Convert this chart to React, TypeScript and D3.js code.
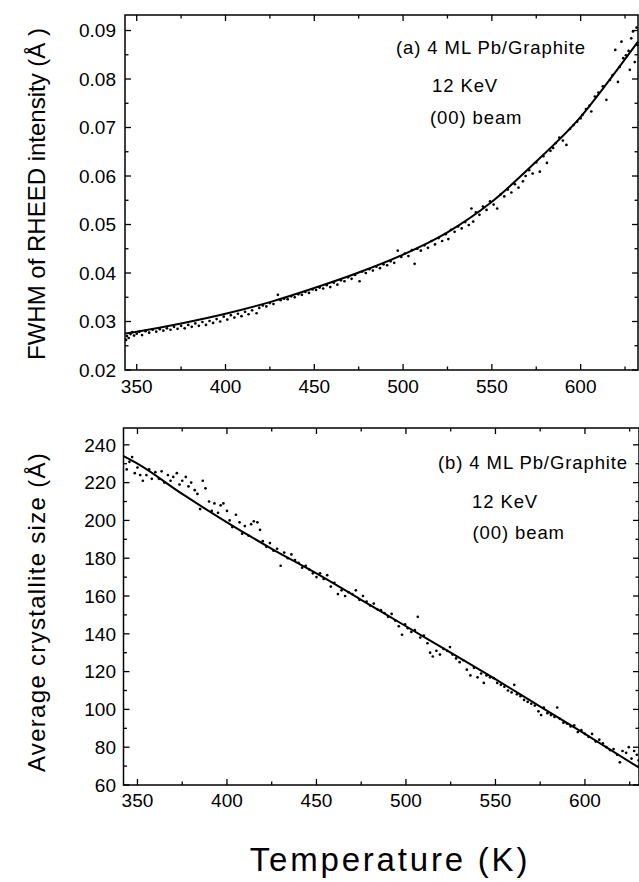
import React from "react";
import * as d3 from "d3";

// ---------- Data ----------
// (a) FWHM of RHEED intensity vs Temperature
const fwhmDots: [number, number][] = [
  [344.0, 0.0262], [344.5, 0.0270], [345.5, 0.0266], [346.5, 0.0274], [347.5, 0.0278], [348.5, 0.0271],
  [350.0, 0.0275], [351.5, 0.0279], [353.0, 0.0272], [355.0, 0.0280], [357.0, 0.0277], [359.0, 0.0283],
  [361.0, 0.0279], [363.0, 0.0284], [365.0, 0.0281], [367.0, 0.0286], [369.0, 0.0283], [371.0, 0.0289],
  [373.0, 0.0285], [375.0, 0.0291], [377.0, 0.0286], [379.0, 0.0293], [381.0, 0.0289], [383.0, 0.0296],
  [385.0, 0.0291], [387.0, 0.0299], [389.0, 0.0293], [391.0, 0.0301], [393.0, 0.0297], [395.0, 0.0305],
  [397.0, 0.0300], [399.0, 0.0310], [401.0, 0.0304], [403.0, 0.0313], [405.0, 0.0308], [407.0, 0.0316],
  [409.0, 0.0311], [411.0, 0.0320], [413.0, 0.0315], [415.0, 0.0323], [417.5, 0.0317], [419.0, 0.0328],
  [421.0, 0.0333], [423.0, 0.0331], [425.0, 0.0338], [427.0, 0.0336], [429.5, 0.0355], [431.0, 0.0344],
  [433.0, 0.0347], [435.0, 0.0346], [437.0, 0.0352], [439.0, 0.0350], [441.0, 0.0356], [443.0, 0.0355],
  [445.0, 0.0361], [447.0, 0.0359], [449.0, 0.0366], [451.0, 0.0365], [453.0, 0.0370], [455.0, 0.0368],
  [457.0, 0.0375], [459.0, 0.0371], [461.0, 0.0380], [463.0, 0.0376], [465.0, 0.0385], [467.0, 0.0383],
  [469.0, 0.0391], [471.0, 0.0388], [473.0, 0.0396], [475.5, 0.0383], [477.0, 0.0403], [479.0, 0.0400],
  [481.0, 0.0408], [483.0, 0.0405], [485.0, 0.0413], [487.0, 0.0410], [489.0, 0.0418], [491.0, 0.0416],
  [493.0, 0.0424], [495.0, 0.0421], [497.0, 0.0446], [499.0, 0.0433], [501.0, 0.0440], [503.0, 0.0435],
  [505.0, 0.0447], [506.5, 0.0419], [508.0, 0.0450], [510.0, 0.0446], [512.0, 0.0457], [514.0, 0.0452],
  [516.0, 0.0466], [518.0, 0.0459], [520.0, 0.0472], [522.0, 0.0466], [524.0, 0.0480], [525.5, 0.0470],
  [527.0, 0.0489], [529.0, 0.0485], [531.0, 0.0496], [533.0, 0.0492], [535.0, 0.0505], [537.0, 0.0499],
  [538.5, 0.0533], [539.5, 0.0506], [541.0, 0.0525], [543.0, 0.0520], [545.0, 0.0537], [547.0, 0.0530],
  [549.0, 0.0548], [551.0, 0.0541], [553.0, 0.0533], [555.0, 0.0562], [557.0, 0.0558], [559.0, 0.0572],
  [561.0, 0.0566], [563.0, 0.0583], [565.0, 0.0576], [567.5, 0.0589], [569.0, 0.0600], [571.0, 0.0612],
  [573.0, 0.0605], [575.0, 0.0628], [577.0, 0.0609], [579.0, 0.0641], [581.0, 0.0627], [583.0, 0.0652],
  [584.5, 0.0658], [586.0, 0.0668], [588.0, 0.0679], [590.0, 0.0673], [592.0, 0.0664], [594.0, 0.0697],
  [596.0, 0.0705], [598.0, 0.0712], [600.0, 0.0719], [601.0, 0.0726], [603.0, 0.0738], [605.0, 0.0745],
  [606.0, 0.0733], [608.0, 0.0764], [610.0, 0.0772], [612.5, 0.0785], [614.5, 0.0757], [616.5, 0.0798],
  [618.0, 0.0808], [619.5, 0.0860], [621.0, 0.0794], [622.0, 0.0825], [623.0, 0.0877], [624.0, 0.0843],
  [625.5, 0.0849], [627.0, 0.0858], [627.7, 0.0819], [628.5, 0.0884], [629.5, 0.0898], [630.5, 0.0835],
  [631.5, 0.0906], [632.0, 0.0870],
];
const fwhmFitT = [343.5, 350, 375, 400, 425, 450, 475, 500, 525, 550, 575, 600, 615, 632.3];
const fwhmFitV = [0.0275, 0.0279, 0.0296, 0.0316, 0.034, 0.0369, 0.0401, 0.0438, 0.0484, 0.0547, 0.063, 0.0722, 0.0792, 0.0877];

// (b) Average crystallite size vs Temperature
const sizeDots: [number, number][] = [
  [344, 227], [345.5, 231], [347, 233.5], [348.5, 225], [350, 228], [351.5, 224], [353, 221], [355, 224],
  [356.5, 227], [358, 222], [360, 225.5], [362, 222], [363.5, 226], [365, 220], [367, 224], [368.5, 221],
  [370, 223], [372, 225], [373.5, 219], [375, 221], [377, 223], [378.5, 218], [380, 220], [382, 216],
  [383.5, 214], [385, 206], [386.5, 221], [388, 217], [390, 210], [391.5, 205], [393, 209], [395, 204],
  [396.5, 208], [398, 209], [400, 205], [401.5, 200], [403, 196.5], [405, 203], [407, 199], [408.5, 193],
  [410, 197], [412, 192], [413.5, 198], [415, 199.5], [417, 199], [418.5, 195], [420, 189], [422, 186],
  [424, 188], [426, 184], [428, 185], [430, 176], [432, 183], [434, 180], [436, 182], [438, 179],
  [440, 177.5], [442, 175], [444, 176], [446, 174], [448, 172], [450, 170], [452, 172], [454, 169],
  [456, 171], [458, 165], [460, 167], [462, 161], [464, 163], [466, 160], [468, 162], [470, 161],
  [472, 163], [474, 158], [476, 160], [478, 157], [480, 155], [482, 156], [484, 153], [486, 152.5],
  [488, 151], [490, 149], [492, 150.5], [494, 147], [496, 144], [497.8, 139.5], [499.5, 145], [501, 143],
  [503, 141], [505, 142], [506.6, 149], [508, 138], [510, 139], [512, 135], [513.5, 130], [515, 128],
  [517, 131], [519, 129], [521, 132], [523, 131], [524.6, 133], [526, 129], [528, 127], [530, 125],
  [532, 126], [534, 121], [536, 118], [538, 122], [540, 117], [542, 119], [543.5, 114], [545, 118],
  [547, 117], [549, 116.5], [551, 114], [553, 113], [555, 112], [557, 110], [559, 109], [560.5, 113],
  [562, 108], [564, 107], [566, 105], [568, 104], [570, 103], [572, 102], [574, 99], [575.5, 97],
  [577, 101], [579, 98], [581, 97], [583, 96], [584.5, 101], [586, 95], [588, 93], [590, 92.5],
  [592, 91], [594, 91.5], [596, 88], [598, 89], [600, 87], [602, 85.5], [604, 87], [606, 83],
  [608, 84], [610, 82], [612, 80], [614, 78.5], [616, 79], [618, 76], [619.5, 72], [621, 78],
  [623, 77], [624.5, 80], [626, 74], [627.5, 78], [629, 76], [630, 73],
];
const sizeFitT = [342.2, 350, 375, 400, 425, 450, 475, 500, 525, 550, 575, 600, 630.5];
const sizeFitV = [234, 230, 214, 199, 185, 172, 158, 144, 130, 116, 101.5, 87, 69];

const xTicks = [350, 400, 450, 500, 550, 600];
const fwhmTicks = [0.02, 0.03, 0.04, 0.05, 0.06, 0.07, 0.08, 0.09];
const sizeTicks = [60, 80, 100, 120, 140, 160, 180, 200, 220, 240];
const annotationA = ["(a) 4 ML Pb/Graphite", "12 KeV", "(00) beam"];
const annotationB = ["(b) 4 ML Pb/Graphite", "12 KeV", "(00) beam"];

const FONT = "'Liberation Sans', Arial, Helvetica, sans-serif";

type PanelProps = {
  dots: [number, number][];
  fitT: number[];
  fitV: number[];
  xDomain: [number, number];
  xRange: [number, number];
  yDomain: [number, number];
  yRange: [number, number];
  yTicks: number[];
  yMinorStep: number;
  yFormat: (v: number) => string;
  xLabelY: number;
  annotation: string[];
  annX: [number, number, number];
  annY: [number, number, number];
};

function Panel(p: PanelProps) {
  const x = d3.scaleLinear().domain(p.xDomain).range(p.xRange);
  const y = d3.scaleLinear().domain(p.yDomain).range(p.yRange);
  const [x0, x1] = p.xRange;
  const [yb, yt] = p.yRange;
  const line = d3
    .line<number>()
    .x((_, i) => x(p.fitT[i]))
    .y((v) => y(v))
    .curve(d3.curveMonotoneX);

  const xMinor = d3.range(350, p.xDomain[1], 25);
  const yMinor = d3.range(p.yTicks[0], p.yDomain[1] + 1e-9, p.yMinorStep);
  const isMajorX = (t: number) => Math.abs(t % 50) < 1e-6;
  const isMajorY = (v: number) => p.yTicks.some((t) => Math.abs(t - v) < 1e-9);

  return (
    <g>
      {p.dots.map(([t, v], i) => (
        <circle key={i} cx={x(t)} cy={y(v)} r={1.35} fill="#000" />
      ))}
      <path d={line(p.fitV) || ""} fill="none" stroke="#000" strokeWidth={2} />
      <rect x={x0} y={yt} width={x1 - x0} height={yb - yt} fill="none" stroke="#000" strokeWidth={1.5} />
      {xMinor.map((t) => {
        const L = isMajorX(t) ? 6 : 3.5;
        return (
          <g key={"xt" + t}>
            <line x1={x(t)} x2={x(t)} y1={yb} y2={yb - L} stroke="#000" strokeWidth={1.3} />
            <line x1={x(t)} x2={x(t)} y1={yt} y2={yt + L} stroke="#000" strokeWidth={1.3} />
          </g>
        );
      })}
      {yMinor.map((v) => {
        const L = isMajorY(v) ? 6 : 3.5;
        return (
          <g key={"yt" + v}>
            <line x1={x0} x2={x0 + L} y1={y(v)} y2={y(v)} stroke="#000" strokeWidth={1.3} />
            <line x1={x1} x2={x1 - L} y1={y(v)} y2={y(v)} stroke="#000" strokeWidth={1.3} />
          </g>
        );
      })}
      {xTicks.map((t) => (
        <text key={"xl" + t} x={x(t)} y={p.xLabelY} textAnchor="middle" fontSize={19} fontFamily={FONT}>
          {t}
        </text>
      ))}
      {p.yTicks.map((v) => (
        <text key={"yl" + v} x={116} y={y(v)} dy="0.36em" textAnchor="end" fontSize={19} fontFamily={FONT}>
          {p.yFormat(v)}
        </text>
      ))}
      {p.annotation.map((s, i) => (
        <text key={"an" + i} x={p.annX[i]} y={p.annY[i]} fontSize={18.5} letterSpacing={0.9} fontFamily={FONT}>
          {s}
        </text>
      ))}
    </g>
  );
}

export default function App() {
  return (
    <svg width={639} height={882} style={{ display: "block", position: "absolute", left: 0, top: 0, background: "#fff" }}>
      <rect width={639} height={882} fill="#fff" />
      <Panel
        dots={fwhmDots}
        fitT={fwhmFitT}
        fitV={fwhmFitV}
        xDomain={[343.4, 632.3]}
        xRange={[125, 638]}
        yDomain={[0.02, 0.0932]}
        yRange={[370, 15]}
        yTicks={fwhmTicks}
        yMinorStep={0.005}
        yFormat={(v) => v.toFixed(2)}
        xLabelY={393}
        annotation={annotationA}
        annX={[396, 432, 430]}
        annY={[54, 92, 124]}
      />
      <Panel
        dots={sizeDots}
        fitT={sizeFitT}
        fitV={sizeFitV}
        xDomain={[342.2, 630.2]}
        xRange={[123.5, 639]}
        yDomain={[60, 248.9]}
        yRange={[785, 428]}
        yTicks={sizeTicks}
        yMinorStep={10}
        yFormat={(v) => String(v)}
        xLabelY={807}
        annotation={annotationB}
        annX={[438, 472, 472.5]}
        annY={[469, 508, 539]}
      />
      <text transform="translate(45,194) rotate(-90)" textAnchor="middle" fontSize={24} fontFamily={FONT}>
        FWHM of RHEED intensity (Å )
      </text>
      <text transform="translate(45,612) rotate(-90)" textAnchor="middle" fontSize={24} letterSpacing={1.3} fontFamily={FONT}>
        Average crystallite size (Å)
      </text>
      <text x={390} y={871} textAnchor="middle" fontSize={33} letterSpacing={2.8} fontFamily={FONT}>
        Temperature (K)
      </text>
    </svg>
  );
}
